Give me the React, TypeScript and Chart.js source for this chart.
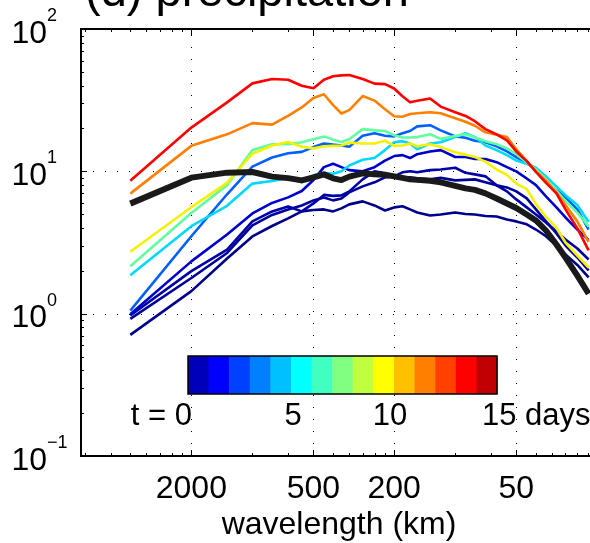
import React, { useEffect, useRef } from "react";
import { Chart, registerables } from "chart.js";

Chart.register(...registerables);

// ---- data ----
const wavelengthKm = [4000, 2000, 1333, 1000, 800, 667, 571, 500, 444, 400, 364, 333, 286, 250, 222, 200, 182, 167, 154, 133, 118, 100, 89, 80, 71, 62.5, 55.6, 50, 44.4, 40, 35.7, 31.7, 28.6, 25, 22];

const specBlack = [5.93, 9.03, 9.79, 9.89, 9.18, 8.96, 8.64, 9.07, 9.52, 8.93, 8.68, 9.18, 9.68, 9.52, 9.45, 9.22, 9.0, 8.78, 8.71, 8.58, 8.37, 7.91, 7.59, 7.41, 7.0, 6.45, 5.95, 5.53, 4.98, 4.52, 3.84, 3.06, 2.48, 1.85, 1.38];
const specRed = [8.6, 20.3, 30.5, 41.5, 44.5, 44.0, 39.9, 38.4, 44.0, 46.5, 47.2, 47.5, 44.5, 41.3, 41.0, 38.2, 33.7, 30.6, 31.3, 32.5, 28.5, 26.0, 24.5, 22.5, 19.8, 18.2, 16.5, 13.8, 11.8, 9.9, 8.3, 7.0, 5.4, 3.97, 2.78];
const specOrange = [6.97, 15.1, 18.2, 21.8, 21.3, 24.5, 28.1, 32.8, 34.8, 29.2, 25.5, 26.9, 33.8, 31.4, 27.3, 24.4, 24.2, 25.3, 25.6, 26.0, 25.6, 23.6, 22.3, 20.9, 18.8, 18.1, 17.4, 14.3, 11.8, 10.0, 8.6, 7.1, 5.8, 4.45, 3.2];
const specYellow = [2.72, 5.6, 8.3, 13.3, 15.2, 16.1, 14.9, 14.5, 15.0, 15.1, 15.2, 15.9, 15.7, 15.7, 16.4, 15.1, 15.2, 15.7, 15.0, 15.5, 14.8, 13.6, 13.1, 12.6, 11.7, 10.3, 9.45, 8.2, 7.5, 5.9, 4.8, 4.0, 3.16, 2.56, 2.11];
const specGreen = [2.15, 5.1, 8.0, 14.1, 15.5, 15.5, 16.0, 16.8, 17.6, 16.7, 16.1, 16.8, 19.8, 19.4, 19.2, 17.9, 17.3, 17.3, 17.4, 18.2, 16.9, 17.7, 18.2, 17.3, 16.3, 15.5, 14.5, 13.2, 11.6, 10.3, 8.8, 7.3, 6.2, 5.1, 4.1];
const specCyan = [1.86, 4.12, 5.73, 8.2, 8.55, 8.93, 8.37, 9.37, 9.75, 9.6, 10.0, 11.0, 12.05, 12.4, 14.1, 16.0, 16.3, 15.7, 14.3, 15.7, 16.0, 17.4, 18.5, 17.4, 15.2, 14.1, 13.0, 11.9, 11.3, 10.6, 9.2, 7.8, 6.8, 5.8, 4.4];
const specBlue = [1.05, 3.5, 6.9, 10.8, 12.5, 13.4, 13.7, 14.8, 15.7, 15.4, 15.2, 14.9, 17.8, 18.5, 17.8, 17.6, 18.5, 19.2, 20.7, 21.1, 19.4, 17.6, 17.2, 16.4, 16.0, 15.0, 13.8, 12.6, 11.4, 10.3, 8.5, 7.35, 6.56, 5.4, 3.9];
const specNavyBright = [0.99, 2.33, 3.6, 5.06, 6.0, 6.56, 7.27, 8.7, 10.7, 11.3, 10.7, 10.2, 10.0, 10.7, 11.9, 12.8, 13.0, 12.4, 13.2, 13.8, 14.1, 12.6, 12.6, 12.2, 12.2, 11.6, 10.7, 10.0, 8.9, 8.0, 6.67, 5.58, 4.74, 3.9, 3.3];
const specNavy1 = [0.97, 1.99, 2.82, 4.45, 5.23, 5.67, 5.23, 5.95, 6.83, 6.72, 6.78, 7.23, 8.78, 10.0, 9.68, 9.22, 9.84, 10.0, 9.84, 10.2, 10.3, 10.6, 9.76, 9.52, 9.22, 7.97, 7.23, 6.35, 5.58, 4.98, 4.37, 3.78, 3.32, 2.87, 2.4];
const specNavy2 = [0.92, 1.78, 2.67, 4.17, 4.94, 5.4, 5.76, 6.25, 6.56, 6.25, 6.45, 7.11, 7.84, 8.37, 9.07, 9.22, 9.07, 9.07, 8.93, 8.78, 9.0, 8.64, 8.71, 8.78, 8.37, 7.97, 7.71, 7.23, 6.45, 5.4, 4.45, 3.66, 3.01, 2.48, 2.01];
const specNavy3 = [0.71, 1.44, 2.44, 3.49, 4.13, 4.67, 5.23, 5.35, 5.4, 5.23, 5.49, 5.86, 6.15, 5.76, 5.31, 5.58, 5.68, 5.4, 5.14, 4.9, 4.98, 5.14, 5.02, 4.98, 4.86, 4.82, 4.59, 4.45, 4.24, 3.9, 3.5, 3.0, 2.6, 2.2, 1.8];

// drawn order: first = on top
const seriesList = [
  { name: "reference", values: specBlack, color: "#1a1a1a", width: 6 },
  { name: "red", values: specRed, color: "#ff0000", width: 2.6 },
  { name: "orange", values: specOrange, color: "#ff8000", width: 2.6 },
  { name: "yellow", values: specYellow, color: "#f2f200", width: 2.6 },
  { name: "green", values: specGreen, color: "#60ffa0", width: 2.6 },
  { name: "cyan", values: specCyan, color: "#00d8ff", width: 2.6 },
  { name: "blue", values: specBlue, color: "#0060ff", width: 2.6 },
  { name: "navyBright", values: specNavyBright, color: "#0000cc", width: 2.6 },
  { name: "navy1", values: specNavy1, color: "#0000a8", width: 2.6 },
  { name: "navy2", values: specNavy2, color: "#00009a", width: 2.6 },
  { name: "navy3", values: specNavy3, color: "#00008c", width: 2.6 },
];

const xTickKm = [2000, 500, 200, 50];
const xMinorTickKm = [6667, 5000, 4000, 3333, 2857, 2500, 2222, 1000, 667, 400, 333, 286, 250, 222, 100, 66.7, 40, 33.3, 28.6, 25, 22.2];
const yTickExponents = [-1, 0, 1, 2];
const yMinorMantissas = [2, 3, 4, 5, 6, 7, 8, 9];

const colorbarColors = ["#0000bb", "#0000ff", "#0040ff", "#0080ff", "#00c0ff", "#00ffff", "#40ffc0", "#80ff80", "#c0ff40", "#ffff00", "#ffc000", "#ff8000", "#ff4000", "#ff0000", "#c00000"];
const colorbarLabels = [
  { text: "t = 0", dx: 4, align: "right" },
  { text: "5", dx: 105, align: "center" },
  { text: "10", dx: 202, align: "center" },
  { text: "15 days", dx: 294, align: "left" },
];

const titleText = "(d) precipitation";
const xAxisTitle = "wavelength (km)";
const FONT = '"Liberation Sans", Arial, Helvetica, sans-serif';

const matlabAxes = {
  id: "matlabAxes",
  beforeDatasetsDraw(chart: any) {
    const { ctx, chartArea: a, scales } = chart;
    const x = scales.x, y = scales.y;
    ctx.save();
    ctx.strokeStyle = "#000";
    ctx.lineWidth = 1;
    ctx.setLineDash([1, 11]);
    for (const v of xTickKm) {
      const px = Math.round(x.getPixelForValue(v)) + 0.5;
      ctx.beginPath(); ctx.moveTo(px, a.bottom); ctx.lineTo(px, a.top); ctx.stroke();
    }
    for (const e of yTickExponents) {
      const py = Math.round(y.getPixelForValue(Math.pow(10, e))) + 0.5;
      if (py < a.top + 2 || py > a.bottom - 2) continue;
      ctx.beginPath(); ctx.moveTo(a.left, py); ctx.lineTo(a.right, py); ctx.stroke();
    }
    ctx.restore();
  },
  afterDatasetsDraw(chart: any) {
    const { ctx, chartArea: a, scales } = chart;
    const x = scales.x, y = scales.y;
    ctx.save();
    ctx.setLineDash([]);
    ctx.strokeStyle = "#000";
    ctx.lineWidth = 1;
    const xt = (v: number, len: number) => {
      const px = Math.round(x.getPixelForValue(v)) + 0.5;
      ctx.beginPath();
      ctx.moveTo(px, a.bottom); ctx.lineTo(px, a.bottom - len);
      ctx.moveTo(px, a.top); ctx.lineTo(px, a.top + len);
      ctx.stroke();
    };
    xMinorTickKm.forEach((v) => xt(v, 3));
    xTickKm.forEach((v) => xt(v, 6));
    const yt = (v: number, len: number) => {
      const py = Math.round(y.getPixelForValue(v)) + 0.5;
      ctx.beginPath(); ctx.moveTo(a.left, py); ctx.lineTo(a.left + len, py); ctx.stroke();
    };
    for (const e of yTickExponents) {
      yt(Math.pow(10, e), 6);
      if (e < 2) yMinorMantissas.forEach((m) => yt(m * Math.pow(10, e), 3));
    }
    ctx.lineWidth = 2;
    ctx.strokeRect(a.left, a.top, a.right - a.left, a.bottom - a.top);

    // colorbar
    const cbL = a.left + 107, cbT = a.top + 327, cbW = 309, cbH = 38;
    const cw = cbW / colorbarColors.length;
    colorbarColors.forEach((c, i) => {
      ctx.fillStyle = c;
      ctx.fillRect(cbL + i * cw, cbT, cw + 0.5, cbH);
    });
    ctx.lineWidth = 1.5;
    ctx.strokeRect(cbL, cbT, cbW, cbH);
    ctx.fillStyle = "#000";
    ctx.font = `31px ${FONT}`;
    ctx.textBaseline = "alphabetic";
    for (const l of colorbarLabels) {
      ctx.textAlign = l.align as CanvasTextAlign;
      ctx.fillText(l.text, cbL + l.dx, cbT + 69);
    }

    // y tick labels 10^n
    ctx.textAlign = "left";
    for (const e of yTickExponents) {
      const py = y.getPixelForValue(Math.pow(10, e));
      ctx.font = `32px ${FONT}`;
      ctx.fillText("10", 11.5, py + 13.5);
      const w = ctx.measureText("10").width;
      ctx.font = `18px ${FONT}`;
      ctx.fillText(e < 0 ? "\u2212" + Math.abs(e) : String(e), 11.5 + w, py - 8);
    }
    // x tick labels
    ctx.font = `32px ${FONT}`;
    ctx.textAlign = "center";
    for (const v of xTickKm) {
      ctx.fillText(String(v), x.getPixelForValue(v), a.bottom + 42);
    }
    ctx.fillText(xAxisTitle, 339, a.bottom + 78);
    // title (cropped at the top like the source figure)
    ctx.textAlign = "left";
    ctx.font = `47px ${FONT}`;
    ctx.fillText(titleText, 85, 6);
    ctx.restore();
  },
};

export default function App() {
  const ref = useRef<HTMLCanvasElement | null>(null);
  useEffect(() => {
    if (!ref.current) return;
    const chart = new Chart(ref.current, {
      type: "line",
      data: {
        datasets: seriesList.map((s) => ({
          label: s.name,
          data: wavelengthKm.map((w, i) => ({ x: w, y: s.values[i] })),
          borderColor: s.color,
          backgroundColor: s.color,
          borderWidth: s.width,
          pointRadius: 0,
          tension: 0,
          fill: false,
          borderJoinStyle: "round",
        })),
      },
      options: {
        responsive: false,
        animation: false,
        devicePixelRatio: 1,
        layout: { padding: { top: 29, right: 3, left: 0, bottom: 0 } },
        plugins: { legend: { display: false }, tooltip: { enabled: false }, title: { display: false } },
        scales: {
          x: {
            type: "logarithmic",
            reverse: true,
            min: 20,
            max: 7000,
            grid: { display: false },
            border: { display: false },
            ticks: { display: false },
            afterFit: (s: any) => { s.height = 87; },
          },
          y: {
            type: "logarithmic",
            min: 0.1,
            max: 100,
            grid: { display: false },
            border: { display: false },
            ticks: { display: false },
            afterFit: (s: any) => { s.width = 81; },
          },
        },
      } as any,
      plugins: [matlabAxes],
    });
    return () => chart.destroy();
  }, []);
  return (
    <div style={{ position: "absolute", left: 0, top: 0, width: 590, height: 543, overflow: "hidden", background: "#fff" }}>
      <canvas ref={ref} width={600} height={543} style={{ display: "block" }} />
    </div>
  );
}
